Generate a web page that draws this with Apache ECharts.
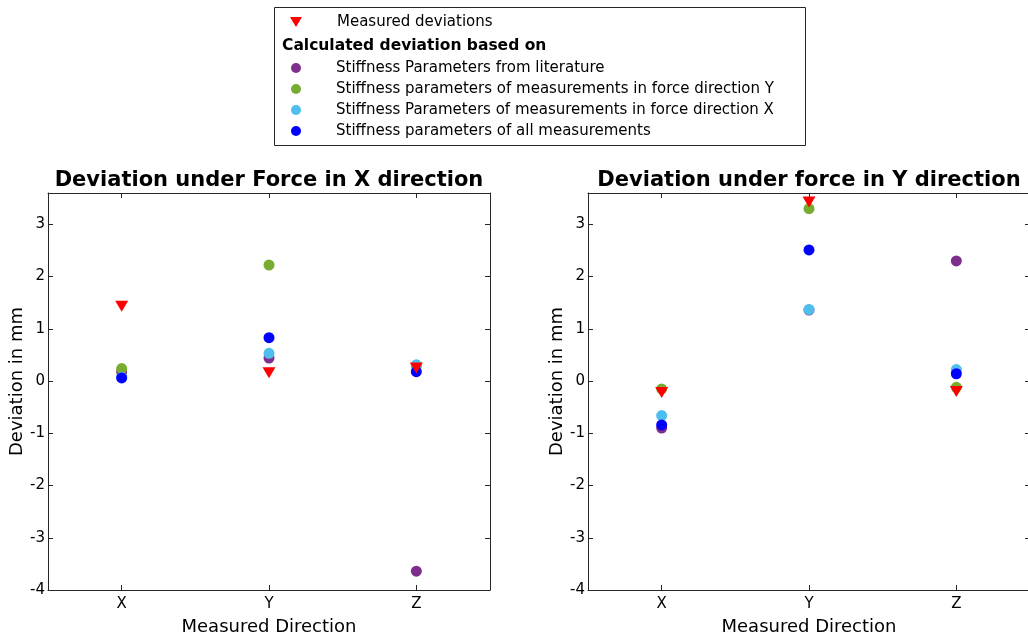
<!DOCTYPE html>
<html>
<head>
<meta charset="utf-8">
<script src="https://cdn.jsdelivr.net/npm/echarts@6/dist/echarts.min.js"></script>
<style>
html,body{margin:0;padding:0;background:#fff;}
#chart{width:1028px;height:638px;}
</style>
</head>
<body>
<div id="chart"></div>
<script>
// ---- data ----
const categories = ['X', 'Y', 'Z'];
const yTicks = [-4, -3, -2, -1, 0, 1, 2, 3];

const titleForceX = 'Deviation under Force in X direction';
const titleForceY = 'Deviation under force in Y direction';
const xAxisName = 'Measured Direction';
const yAxisName = 'Deviation in mm';
const legendHeader = 'Calculated deviation based on';

const seriesNames = [
  'Measured deviations',
  'Stiffness Parameters from literature',
  'Stiffness parameters of measurements in force direction Y',
  'Stiffness Parameters of measurements in force direction X',
  'Stiffness parameters of all measurements'
];

// Force in X direction (left plot)
const fxMeasured   = [1.43, 0.16, 0.25];
const fxLiterature = [0.18, 0.44, -3.64];
const fxForceY     = [0.24, 2.22, 0.29];
const fxForceX     = [0.07, 0.53, 0.31];
const fxAll        = [0.06, 0.83, 0.18];

// Force in Y direction (right plot)
const fyMeasured   = [-0.22, 3.43, -0.20];
const fyLiterature = [-0.90, 1.36, 2.30];
const fyForceY     = [-0.15, 3.30, -0.12];
const fyForceX     = [-0.66, 1.37, 0.22];
const fyAll        = [-0.84, 2.51, 0.14];

// ---- styling ----
const FONT = 'DejaVu Sans';
const AXIS_COLOR = '#262626';
const colors = ['#FF0000', '#7E2F8E', '#77AC30', '#4DBEEE', '#0000FF'];
const TRI = 'path://M0,0 L12,0 L6,10 Z';

const chart = echarts.init(document.getElementById('chart'), null, {renderer: 'canvas'});

function axesFor(gridIndex) {
  const xBottom = {
    type: 'category', gridIndex, data: categories, position: 'bottom',
    boundaryGap: true,
    axisLine: {show: true, onZero: false, lineStyle: {color: AXIS_COLOR, width: 1}},
    axisTick: {show: true, inside: true, alignWithLabel: true, length: 5, lineStyle: {color: AXIS_COLOR}},
    axisLabel: {show: true, margin: 7, color: '#000', fontFamily: FONT, fontSize: 15},
    splitLine: {show: false},
    name: xAxisName, nameLocation: 'middle', nameGap: 28,
    nameTextStyle: {color: '#000', fontFamily: FONT, fontSize: 18}
  };
  const xTop = {
    type: 'category', gridIndex, data: categories, position: 'top',
    boundaryGap: true,
    axisLine: {show: true, onZero: false, lineStyle: {color: AXIS_COLOR, width: 1}},
    axisTick: {show: true, inside: true, alignWithLabel: true, length: 5, lineStyle: {color: AXIS_COLOR}},
    axisLabel: {show: false},
    splitLine: {show: false}
  };
  const yLeft = {
    type: 'value', gridIndex, min: -4, max: 3.6, interval: 1, position: 'left',
    axisLine: {show: true, onZero: false, lineStyle: {color: AXIS_COLOR, width: 1}},
    axisTick: {show: true, inside: true, length: 5, customValues: yTicks, lineStyle: {color: AXIS_COLOR}},
    axisLabel: {show: true, margin: 3, customValues: yTicks, color: '#000', fontFamily: FONT, fontSize: 15},
    splitLine: {show: false},
    name: yAxisName, nameLocation: 'middle', nameGap: 20,
    nameTextStyle: {color: '#000', fontFamily: FONT, fontSize: 18, padding: [0, 0, 0, 20]}
  };
  const yRight = {
    type: 'value', gridIndex, min: -4, max: 3.6, interval: 1, position: 'right',
    axisLine: {show: true, onZero: false, lineStyle: {color: AXIS_COLOR, width: 1}},
    axisTick: {show: true, inside: true, length: 5, customValues: yTicks, lineStyle: {color: AXIS_COLOR}},
    axisLabel: {show: false},
    splitLine: {show: false}
  };
  return {x: [xBottom, xTop], y: [yLeft, yRight]};
}

const a0 = axesFor(0), a1 = axesFor(1);

function makeSeries(gridNo, name, data, color, isTri) {
  return {
    type: 'scatter', name,
    xAxisIndex: gridNo * 2, yAxisIndex: gridNo * 2,
    data: data,
    symbol: isTri ? TRI : 'circle',
    symbolSize: isTri ? [13, 11] : 11,
    itemStyle: {color: color, opacity: 1},
    emphasis: {disabled: true},
    z: 2
  };
}

const leftData = [fxMeasured, fxLiterature, fxForceY, fxForceX, fxAll];
const rightData = [fyMeasured, fyLiterature, fyForceY, fyForceX, fyAll];
const drawOrder = [1, 2, 3, 4, 0]; // circles first, measured triangles on top
const series = [];
[leftData, rightData].forEach((set, g) => {
  drawOrder.forEach(i => series.push(makeSeries(g, seriesNames[i], set[i], colors[i], i === 0)));
});

const legendText = {color: '#000', fontFamily: FONT, fontSize: 15, lineHeight: 21, padding: [0, 0, 0, 30]};

const option = {
  animation: false,
  backgroundColor: '#fff',
  textStyle: {fontFamily: FONT},
  title: [
    {text: titleForceX, left: 269, top: 170, textAlign: 'center', padding: 0,
     textStyle: {fontFamily: FONT, fontSize: 21, fontWeight: 'bold', color: '#000'}},
    {text: titleForceY, left: 809, top: 170, textAlign: 'center', padding: 0,
     textStyle: {fontFamily: FONT, fontSize: 21, fontWeight: 'bold', color: '#000'}}
  ],
  grid: [
    {left: 48, top: 193, width: 442, height: 397, containLabel: false, outerBoundsMode: 'none'},
    {left: 588, top: 193, width: 442, height: 397, containLabel: false, outerBoundsMode: 'none'}
  ],
  xAxis: [...a0.x, ...a1.x],
  yAxis: [...a0.y, ...a1.y],
  legend: [
    {
      orient: 'vertical', left: 290, top: 11.5, padding: 0, itemGap: 0,
      itemWidth: 12, itemHeight: 10, symbolKeepAspect: true,
      data: [{name: seriesNames[0], icon: TRI}],
      textStyle: legendText, selectedMode: false
    },
    {
      orient: 'vertical', left: 291, top: 57.5, padding: 0, itemGap: 0,
      itemWidth: 10, itemHeight: 10, symbolKeepAspect: true,
      data: seriesNames.slice(1).map(n => ({name: n, icon: 'circle'})),
      textStyle: legendText, selectedMode: false
    }
  ],
  graphic: [
    {type: 'rect', left: 274, top: 7, z: -1, silent: true,
     shape: {width: 531, height: 138}, style: {fill: '#fff', stroke: AXIS_COLOR, lineWidth: 1}},
    {type: 'text', left: 282, top: 38, silent: true,
     style: {text: legendHeader, fontFamily: FONT, fontSize: 15.5, fontWeight: 'bold', fill: '#000'}}
  ],
  series
};

chart.setOption(option);
</script>
</body>
</html>
